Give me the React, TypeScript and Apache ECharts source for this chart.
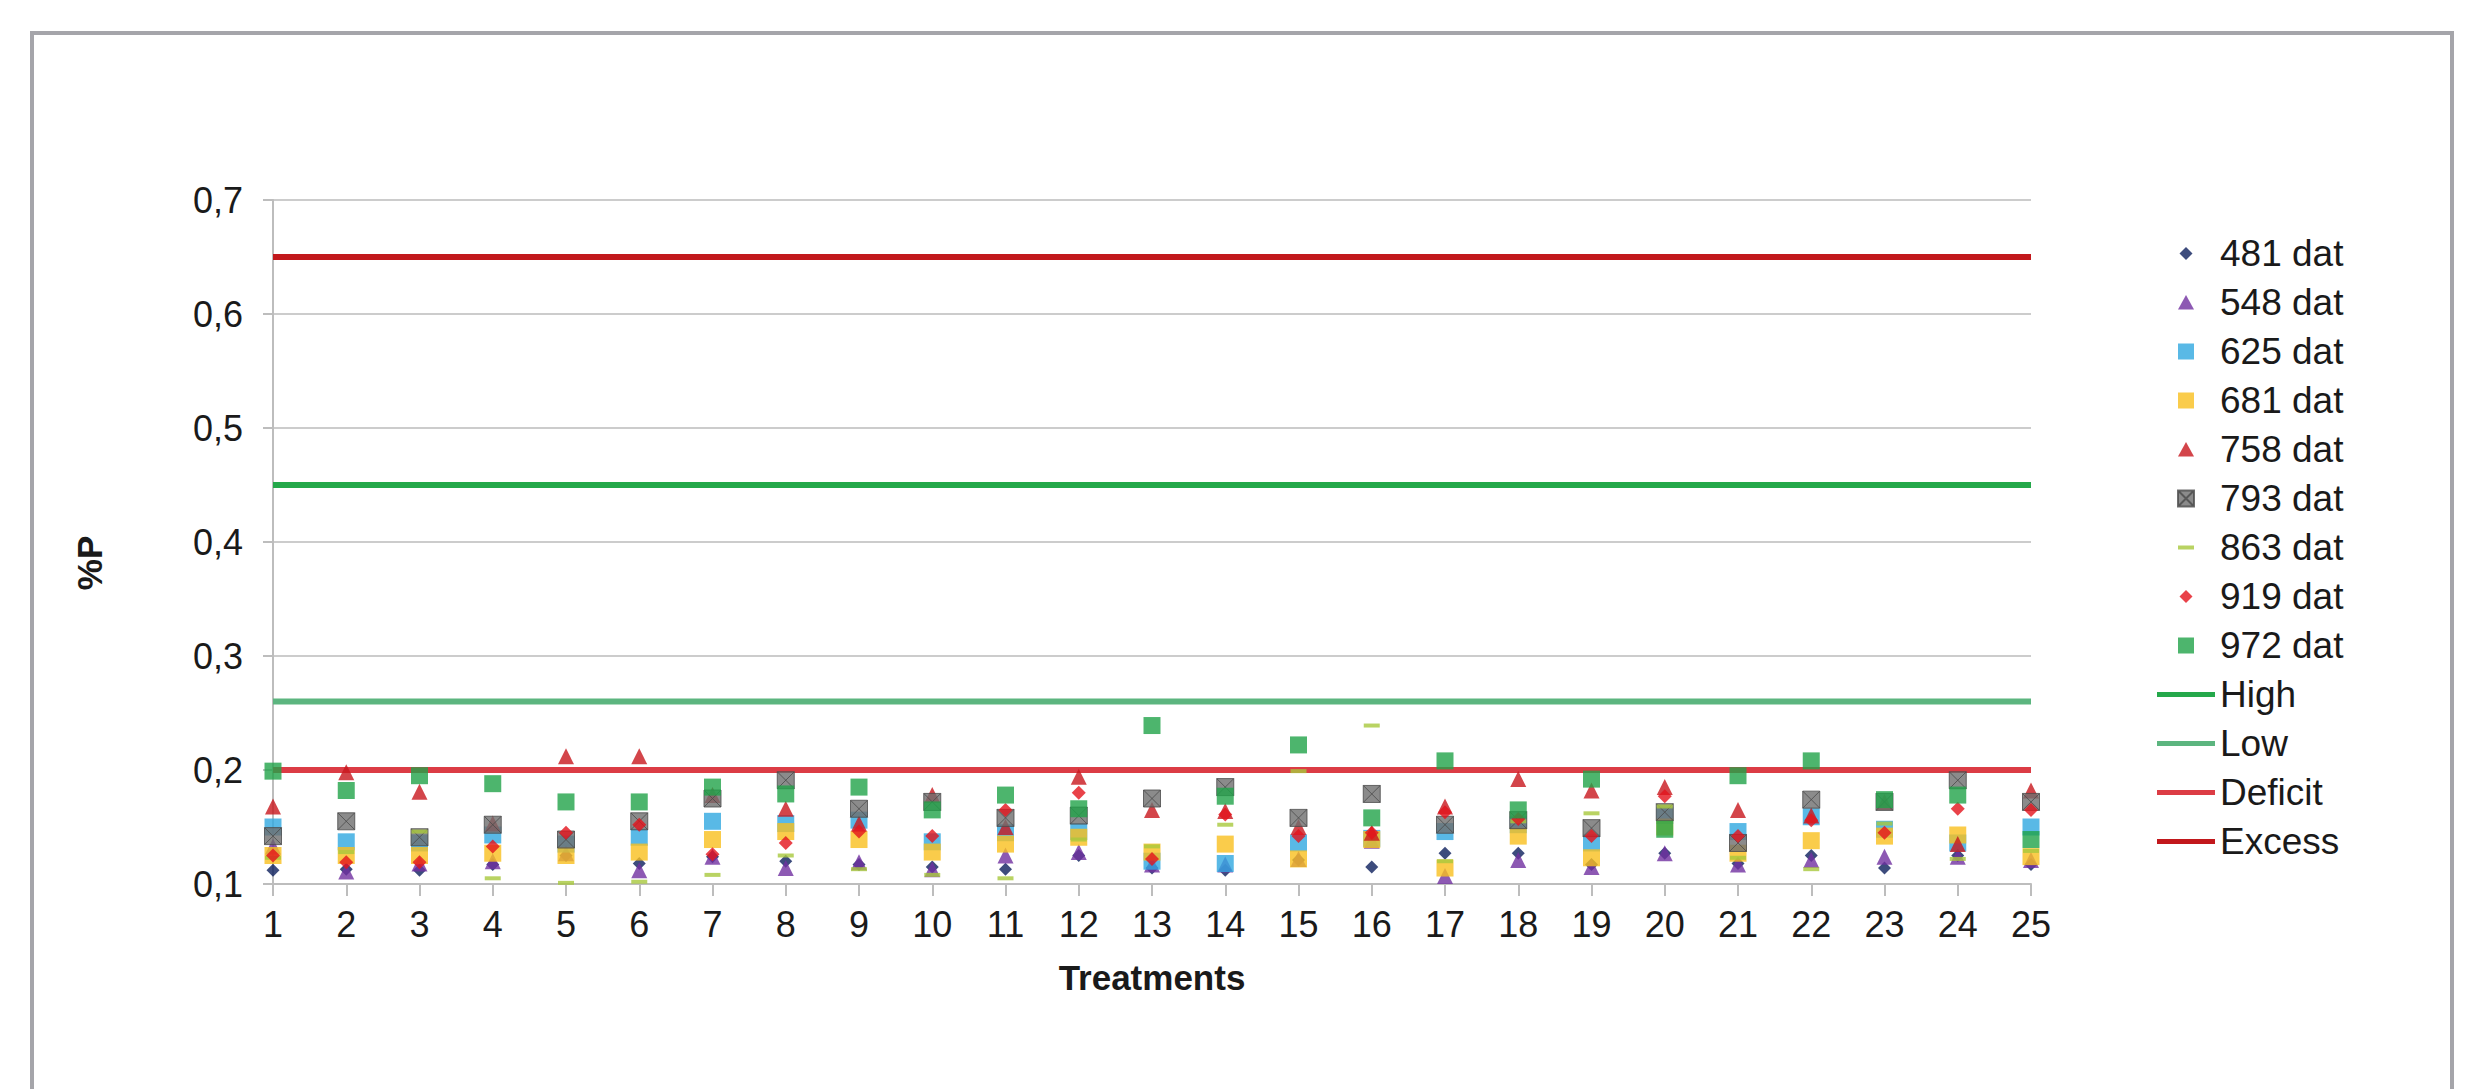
import React, { useEffect, useRef } from "react";
import * as echarts from "echarts";

const treatments = [1, 2, 3, 4, 5, 6, 7, 8, 9, 10, 11, 12, 13, 14, 15, 16, 17, 18, 19, 20, 21, 22, 23, 24, 25];
const yTicks = [0.1, 0.2, 0.3, 0.4, 0.5, 0.6, 0.7];

const d481 = [0.112, 0.113, 0.112, 0.117, 0.125, 0.118, 0.124, 0.12, 0.117, 0.115, 0.113, 0.125, 0.114, 0.112, 0.121, 0.115, 0.127, 0.127, 0.117, 0.127, 0.118, 0.125, 0.114, 0.125, 0.117];
const d548 = [0.133, 0.111, 0.118, 0.12, 0.127, 0.112, 0.124, 0.114, 0.119, 0.113, 0.125, 0.128, 0.117, 0.117, 0.122, 0.138, 0.107, 0.121, 0.115, 0.127, 0.117, 0.121, 0.124, 0.124, 0.121];
const d625 = [0.15, 0.137, 0.136, 0.143, 0.135, 0.141, 0.155, 0.153, 0.156, 0.137, 0.145, 0.146, 0.12, 0.118, 0.136, 0.14, 0.146, 0.152, 0.136, 0.16, 0.146, 0.159, 0.148, 0.136, 0.15];
const d681 = [0.125, 0.125, 0.125, 0.127, 0.125, 0.128, 0.139, 0.146, 0.139, 0.128, 0.135, 0.141, 0.128, 0.135, 0.122, 0.139, 0.114, 0.142, 0.123, 0.15, 0.127, 0.138, 0.142, 0.143, 0.124];
const d758 = [0.168, 0.198, 0.181, 0.153, 0.212, 0.212, 0.178, 0.166, 0.153, 0.178, 0.15, 0.194, 0.165, 0.164, 0.15, 0.145, 0.168, 0.192, 0.182, 0.185, 0.165, 0.16, 0.172, 0.135, 0.182];
const d793 = [0.142, 0.155, 0.141, 0.152, 0.139, 0.155, 0.175, 0.191, 0.166, 0.172, 0.158, 0.16, 0.175, 0.185, 0.158, 0.179, 0.152, 0.156, 0.149, 0.163, 0.136, 0.174, 0.172, 0.191, 0.172];
const d863 = [0.123, 0.128, 0.146, 0.105, 0.101, 0.102, 0.108, 0.125, 0.113, 0.108, 0.105, 0.139, 0.133, 0.152, 0.199, 0.239, 0.12, 0.155, 0.162, 0.168, 0.123, 0.113, 0.153, 0.122, 0.129];
const d919 = [0.125, 0.119, 0.119, 0.133, 0.145, 0.152, 0.126, 0.136, 0.146, 0.142, 0.165, 0.18, 0.122, 0.161, 0.142, 0.145, 0.163, 0.157, 0.142, 0.177, 0.142, 0.156, 0.145, 0.166, 0.165];
const d972 = [0.199, 0.182, 0.195, 0.188, 0.172, 0.172, 0.185, 0.179, 0.185, 0.165, 0.178, 0.166, 0.239, 0.177, 0.222, 0.158, 0.208, 0.165, 0.192, 0.148, 0.195, 0.208, 0.174, 0.178, 0.139];

const levelHigh = 0.45;
const levelLow = 0.26;
const levelDeficit = 0.2;
const levelExcess = 0.65;

const FONT = "'Liberation Sans', Arial, Helvetica, sans-serif";
const XSQ = "path://M0 0H16V16H0Z M0 0L16 16 M16 0L0 16";

// legend icons: padded to the 58x16 legend box so they are not stretched
const PAD = "path://M0 0M58 16";
const IC_DIAMOND = PAD + "M29 1.5L35.5 8L29 14.5L22.5 8Z";
const IC_TRI = PAD + "M29 0.5L37 15H21Z";
const IC_SQ = PAD + "M21 0H37V16H21Z";
const IC_XSQ = PAD + "M21 0H37V16H21Z M21 0L37 16 M37 0L21 16";
const IC_DASH = PAD + "M21 6H37V10H21Z";
const IC_LINE = PAD + "M0 5.5H58V10.5H0Z";

export default function App() {
  const ref = useRef<HTMLDivElement>(null);
  useEffect(() => {
    if (!ref.current) return;
    const chart = echarts.init(ref.current, null, { renderer: "svg" });
    const pts = (arr: number[]) => treatments.map((t, i) => [t, arr[i]]);
    const scatter = (name: string, arr: number[], symbol: string, size: any, color: string, extra: any = {}) => ({
      name,
      type: "scatter",
      data: pts(arr),
      symbol,
      symbolSize: size,
      z: 3,
      itemStyle: { color, ...extra },
    });
    const level = (name: string, v: number, color: string) => ({
      name,
      type: "line",
      data: [
        [treatments[0], v],
        [treatments[treatments.length - 1], v],
      ],
      symbol: "none",
      showSymbol: false,
      z: 2,
      lineStyle: { color, width: 6 },
      itemStyle: { color },
    });
    const option: any = {
      animation: false,
      backgroundColor: "#ffffff",
      textStyle: { fontFamily: FONT },
      grid: { left: 273, top: 200, width: 1758, height: 684, containLabel: false },
      xAxis: {
        type: "value",
        min: 1,
        max: 25,
        interval: 1,
        axisLine: { show: true, lineStyle: { color: "#bdbdbd", width: 2 } },
        axisTick: { show: true, length: 12, lineStyle: { color: "#bdbdbd", width: 2 } },
        splitLine: { show: false },
        axisLabel: { fontSize: 36, color: "#1a1a1a", margin: 22, fontFamily: FONT },
      },
      yAxis: {
        type: "value",
        min: yTicks[0],
        max: yTicks[yTicks.length - 1],
        interval: 0.1,
        axisLine: { show: true, lineStyle: { color: "#bdbdbd", width: 2 } },
        axisTick: { show: true, length: 10, lineStyle: { color: "#bdbdbd", width: 2 } },
        splitLine: { show: true, lineStyle: { color: "#cccccc", width: 2 } },
        axisLabel: {
          fontSize: 36,
          color: "#1a1a1a",
          margin: 30,
          fontFamily: FONT,
          formatter: (v: number) => v.toFixed(1).replace(".", ","),
        },
      },
      legend: {
        orient: "vertical",
        left: 2151,
        top: 230,
        itemWidth: 58,
        itemHeight: 16,
        itemGap: 12,
        textStyle: { fontSize: 37, color: "#1a1a1a", fontFamily: FONT },
        data: [
          { name: "481 dat", icon: IC_DIAMOND },
          { name: "548 dat", icon: IC_TRI },
          { name: "625 dat", icon: IC_SQ },
          { name: "681 dat", icon: IC_SQ },
          { name: "758 dat", icon: IC_TRI },
          { name: "793 dat", icon: IC_XSQ },
          { name: "863 dat", icon: IC_DASH },
          { name: "919 dat", icon: IC_DIAMOND },
          { name: "972 dat", icon: IC_SQ },
          { name: "High", icon: IC_LINE },
          { name: "Low", icon: IC_LINE },
          { name: "Deficit", icon: IC_LINE },
          { name: "Excess", icon: IC_LINE },
        ],
      },
      graphic: [
        {
          type: "rect",
          silent: true,
          shape: { x: 32, y: 33, width: 2420, height: 1150 },
          style: { fill: "none", stroke: "#a5a5aa", lineWidth: 4 },
        },
        {
          type: "text",
          x: 89,
          y: 563,
          rotation: Math.PI / 2,
          style: {
            text: "%P",
            fontSize: 35,
            fontWeight: "bold",
            fontFamily: FONT,
            fill: "#1a1a1a",
            align: "center",
            verticalAlign: "middle",
          },
        },
        {
          type: "text",
          x: 1152,
          y: 977,
          style: {
            text: "Treatments",
            fontSize: 35,
            fontWeight: "bold",
            fontFamily: FONT,
            fill: "#1a1a1a",
            align: "center",
            verticalAlign: "middle",
          },
        },
      ],
      series: [
        scatter("481 dat", d481, "diamond", 13, "#0d1f5c"),
        scatter("548 dat", d548, "triangle", 16, "#7030a0"),
        scatter("625 dat", d625, "rect", 17, "#2fa8e0"),
        scatter("681 dat", d681, "rect", 17, "#f9bf1e"),
        scatter("758 dat", d758, "triangle", 16, "#c8161d"),
        scatter("793 dat", d793, XSQ, 17, "#6e6e6e", { borderColor: "#4a4a4a", borderWidth: 1 }),
        scatter("863 dat", d863, "rect", [16, 4], "#a8c83c"),
        scatter("919 dat", d919, "diamond", 14, "#e3131b"),
        scatter("972 dat", d972, "rect", 17, "#21a348"),
        level("High", levelHigh, "#24a84a"),
        level("Low", levelLow, "#5cb57f"),
        level("Deficit", levelDeficit, "#dc3c45"),
        level("Excess", levelExcess, "#c2181c"),
      ],
    };
    chart.setOption(option);
    return () => chart.dispose();
  }, []);
  return (
    <div
      ref={ref}
      style={{ position: "fixed", left: 0, top: 0, width: 2472, height: 1089, background: "#fff" }}
    />
  );
}
